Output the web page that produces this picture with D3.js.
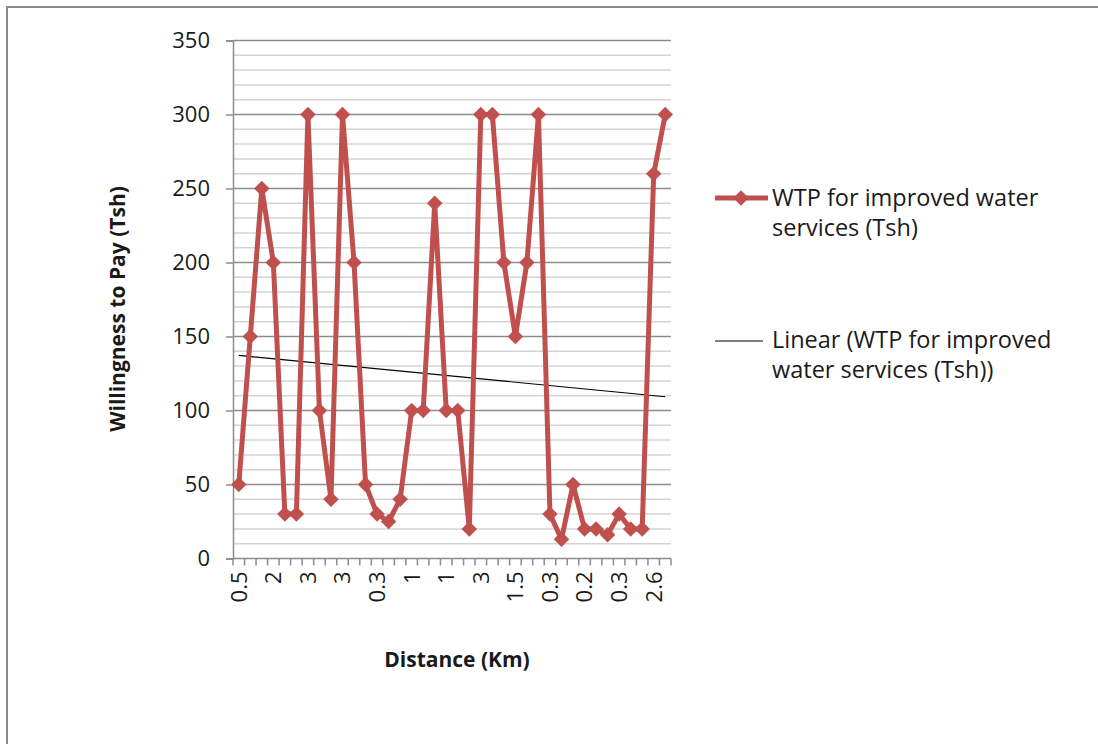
<!DOCTYPE html>
<html>
<head>
<meta charset="utf-8">
<script src="https://cdn.jsdelivr.net/npm/d3@7"></script>
<style>
  body { margin: 0; background: #fff; }
  svg text { font-family: "Open Sans", sans-serif; fill: #1a1a1a; }
  .axisTitle { font-weight: bold; font-size: 21px; }
  .tickLabel { font-size: 22px; }
  .legendText { font-size: 23.5px; }
</style>
</head>
<body>
<svg id="chart" width="1098" height="744"></svg>
<script>
// distances (Km) per respondent; only every third one is printed on the axis
var distances = [0.5, 1, 2, 2, 3, 2, 3, 1, 2, 3, 1, 0.5, 0.3, 0.5, 1, 1, 2, 0.5, 1, 1, 2, 3, 2, 1, 1.5, 1, 2, 0.3, 0.2, 0.5, 0.2, 0.3, 0.2, 0.3, 0.2, 0.5, 2.6, 3];
// willingness to pay (Tsh)
var wtp = [50, 150, 250, 200, 30, 30, 300, 100, 40, 300, 200, 50, 30, 25, 40, 100, 100, 240, 100, 100,
           20, 300, 300, 200, 150, 200, 300, 30, 13, 50, 20, 20, 16, 30, 20, 20, 260, 300];
var yTicks = [0, 50, 100, 150, 200, 250, 300, 350];
var seriesName = ["WTP for improved water", "services (Tsh)"];
var trendName = ["Linear (WTP for improved", "water services (Tsh))"];

var red = "#c0504d";
var plot = {left: 233, right: 671, top: 40.5, bottom: 558.5};

var svg = d3.select("#chart");

// outer chart border (only top and left edge visible in the frame)
svg.append("rect")
   .attr("x", 7).attr("y", 7)
   .attr("width", 1200).attr("height", 900)
   .attr("fill", "none")
   .attr("stroke", "#8a8a8a")
   .attr("stroke-width", 2);

var idx = d3.range(wtp.length);
var x = d3.scaleBand().domain(idx).range([plot.left, plot.right]);
var y = d3.scaleLinear().domain([0, 350]).range([plot.bottom, plot.top]);

// gridlines: minor every 10, major every 50
var minor = d3.range(10, 351, 10).filter(function(v) { return v % 50 !== 0; });
svg.append("g").selectAll("line")
   .data(minor).enter().append("line")
   .attr("x1", plot.left).attr("x2", plot.right)
   .attr("y1", function(d) { return y(d); })
   .attr("y2", function(d) { return y(d); })
   .attr("stroke", "#d4d4d4").attr("stroke-width", 1.5);
svg.append("g").selectAll("line")
   .data(yTicks.slice(1)).enter().append("line")
   .attr("x1", plot.left).attr("x2", plot.right)
   .attr("y1", function(d) { return y(d); })
   .attr("y2", function(d) { return y(d); })
   .attr("stroke", "#8c8c8c").attr("stroke-width", 1.5);

// y axis
var yAxis = svg.append("g")
   .attr("transform", "translate(" + plot.left + ",0)")
   .call(d3.axisLeft(y).tickValues(yTicks).tickSize(7).tickPadding(16));
yAxis.select(".domain").attr("stroke", "#8c8c8c").attr("stroke-width", 1.5);
yAxis.selectAll(".tick line").attr("stroke", "#8c8c8c").attr("stroke-width", 1.5);
yAxis.selectAll("text").attr("class", "tickLabel").attr("font-family", null).attr("font-size", null);

// x axis: tick marks on category boundaries, labels every third category
var xb = svg.append("g").attr("transform", "translate(0," + plot.bottom + ")");
xb.append("line")
  .attr("x1", plot.left).attr("x2", plot.right)
  .attr("stroke", "#8c8c8c").attr("stroke-width", 1.5);
xb.selectAll(".tk")
  .data(idx.concat([wtp.length])).enter().append("line")
  .attr("class", "tk")
  .attr("x1", function(d) { return d < wtp.length ? x(d) : plot.right; })
  .attr("x2", function(d) { return d < wtp.length ? x(d) : plot.right; })
  .attr("y1", 0).attr("y2", 7)
  .attr("stroke", "#8c8c8c").attr("stroke-width", 1.5);
xb.selectAll(".lbl")
  .data(idx.filter(function(i) { return i % 3 === 0; })).enter().append("text")
  .attr("class", "tickLabel")
  .attr("transform", function(d) { return "translate(" + (x(d) + x.bandwidth() / 2) + ",13) rotate(-90)"; })
  .attr("text-anchor", "end")
  .attr("dy", "0.36em")
  .text(function(d) { return distances[d]; });

// linear trendline (least squares over point index 1..n)
var n = wtp.length;
var mx = d3.mean(idx, function(i) { return i + 1; });
var my = d3.mean(wtp);
var slope = d3.sum(idx, function(i) { return (i + 1 - mx) * (wtp[i] - my); }) /
            d3.sum(idx, function(i) { return (i + 1 - mx) * (i + 1 - mx); });
var icpt = my - slope * mx;
var cx = function(i) { return x(i) + x.bandwidth() / 2; };

svg.append("line")
   .attr("x1", cx(0)).attr("y1", y(icpt + slope * 1))
   .attr("x2", cx(n - 1)).attr("y2", y(icpt + slope * n))
   .attr("stroke", "#000").attr("stroke-width", 1.2);

// series line + diamond markers
var line = d3.line()
   .x(function(d, i) { return cx(i); })
   .y(function(d) { return y(d); });
svg.append("path")
   .datum(wtp)
   .attr("d", line)
   .attr("fill", "none")
   .attr("stroke", red)
   .attr("stroke-width", 5)
   .attr("stroke-linejoin", "round");

var diamond = d3.symbol().type(d3.symbolSquare).size(120);
svg.append("g").selectAll("path")
   .data(wtp).enter().append("path")
   .attr("d", diamond)
   .attr("transform", function(d, i) { return "translate(" + cx(i) + "," + y(d) + ") rotate(45)"; })
   .attr("fill", red);

// axis titles
svg.append("text")
   .attr("class", "axisTitle")
   .attr("transform", "translate(125,309) rotate(-90)")
   .attr("text-anchor", "middle")
   .text("Willingness to Pay (Tsh)");
svg.append("text")
   .attr("class", "axisTitle")
   .attr("x", 457).attr("y", 667)
   .attr("text-anchor", "middle")
   .text("Distance (Km)");

// legend
var lg = svg.append("g");
lg.append("line")
  .attr("x1", 715).attr("x2", 768).attr("y1", 198).attr("y2", 198)
  .attr("stroke", red).attr("stroke-width", 5);
lg.append("path")
  .attr("d", diamond)
  .attr("transform", "translate(741,198) rotate(45)")
  .attr("fill", red);
lg.append("text")
  .attr("class", "legendText")
  .selectAll("tspan").data(seriesName).enter().append("tspan")
  .attr("x", 772).attr("y", function(d, i) { return 206 + i * 30; })
  .text(function(d) { return d; });

lg.append("line")
  .attr("x1", 715).attr("x2", 763).attr("y1", 341).attr("y2", 341)
  .attr("stroke", "#000").attr("stroke-width", 1.2);
lg.append("text")
  .attr("class", "legendText")
  .selectAll("tspan").data(trendName).enter().append("tspan")
  .attr("x", 772).attr("y", function(d, i) { return 348 + i * 30; })
  .text(function(d) { return d; });
</script>
</body>
</html>
